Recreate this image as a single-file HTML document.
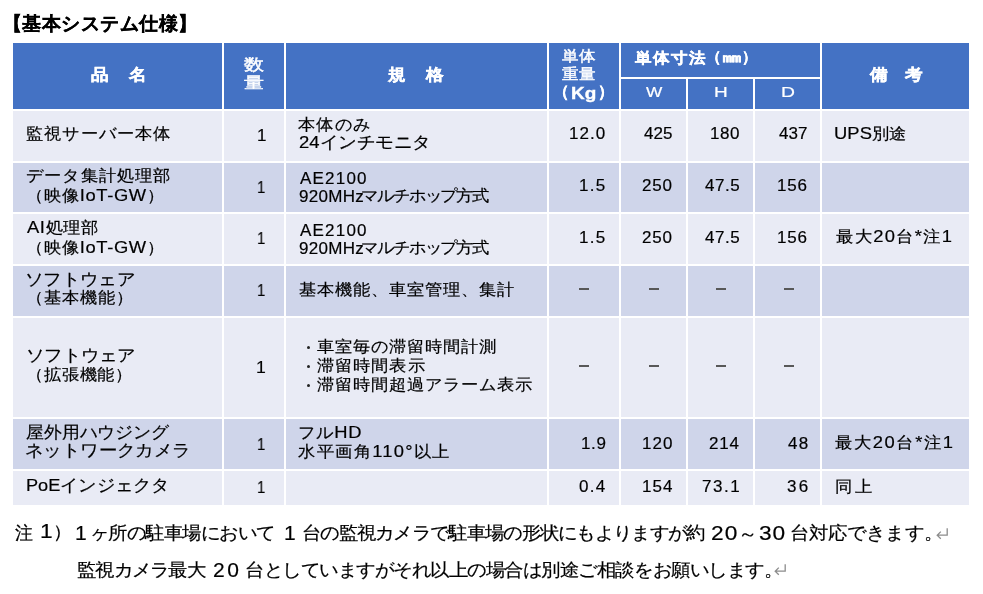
<!DOCTYPE html>
<html lang="ja"><head><meta charset="utf-8"><title>基本システム仕様</title>
<style>
html,body{margin:0;padding:0;background:#fff;width:983px;height:594px;overflow:hidden}
body{position:relative;font-family:"Liberation Sans",sans-serif}
.c{position:absolute}
.t{position:absolute;white-space:nowrap;transform-origin:0 0;line-height:20px;will-change:transform}
</style></head><body>
<div class="c" style="left:13px;top:43px;width:209px;height:66px;background:#4472C4"></div><div class="c" style="left:224px;top:43px;width:60px;height:66px;background:#4472C4"></div><div class="c" style="left:286px;top:43px;width:261px;height:66px;background:#4472C4"></div><div class="c" style="left:549px;top:43px;width:70px;height:66px;background:#4472C4"></div><div class="c" style="left:621px;top:79px;width:65px;height:30px;background:#4472C4"></div><div class="c" style="left:688px;top:79px;width:65px;height:30px;background:#4472C4"></div><div class="c" style="left:755px;top:79px;width:65px;height:30px;background:#4472C4"></div><div class="c" style="left:822px;top:43px;width:147px;height:66px;background:#4472C4"></div><div class="c" style="left:621px;top:43px;width:199px;height:34px;background:#4472C4"></div><div class="c" style="left:13px;top:111px;width:209px;height:50px;background:#E9EBF5"></div><div class="c" style="left:224px;top:111px;width:60px;height:50px;background:#E9EBF5"></div><div class="c" style="left:286px;top:111px;width:261px;height:50px;background:#E9EBF5"></div><div class="c" style="left:549px;top:111px;width:70px;height:50px;background:#E9EBF5"></div><div class="c" style="left:621px;top:111px;width:65px;height:50px;background:#E9EBF5"></div><div class="c" style="left:688px;top:111px;width:65px;height:50px;background:#E9EBF5"></div><div class="c" style="left:755px;top:111px;width:65px;height:50px;background:#E9EBF5"></div><div class="c" style="left:822px;top:111px;width:147px;height:50px;background:#E9EBF5"></div><div class="c" style="left:13px;top:163px;width:209px;height:49px;background:#CFD5EA"></div><div class="c" style="left:224px;top:163px;width:60px;height:49px;background:#CFD5EA"></div><div class="c" style="left:286px;top:163px;width:261px;height:49px;background:#CFD5EA"></div><div class="c" style="left:549px;top:163px;width:70px;height:49px;background:#CFD5EA"></div><div class="c" style="left:621px;top:163px;width:65px;height:49px;background:#CFD5EA"></div><div class="c" style="left:688px;top:163px;width:65px;height:49px;background:#CFD5EA"></div><div class="c" style="left:755px;top:163px;width:65px;height:49px;background:#CFD5EA"></div><div class="c" style="left:822px;top:163px;width:147px;height:49px;background:#CFD5EA"></div><div class="c" style="left:13px;top:214px;width:209px;height:50px;background:#E9EBF5"></div><div class="c" style="left:224px;top:214px;width:60px;height:50px;background:#E9EBF5"></div><div class="c" style="left:286px;top:214px;width:261px;height:50px;background:#E9EBF5"></div><div class="c" style="left:549px;top:214px;width:70px;height:50px;background:#E9EBF5"></div><div class="c" style="left:621px;top:214px;width:65px;height:50px;background:#E9EBF5"></div><div class="c" style="left:688px;top:214px;width:65px;height:50px;background:#E9EBF5"></div><div class="c" style="left:755px;top:214px;width:65px;height:50px;background:#E9EBF5"></div><div class="c" style="left:822px;top:214px;width:147px;height:50px;background:#E9EBF5"></div><div class="c" style="left:13px;top:266px;width:209px;height:50px;background:#CFD5EA"></div><div class="c" style="left:224px;top:266px;width:60px;height:50px;background:#CFD5EA"></div><div class="c" style="left:286px;top:266px;width:261px;height:50px;background:#CFD5EA"></div><div class="c" style="left:549px;top:266px;width:70px;height:50px;background:#CFD5EA"></div><div class="c" style="left:621px;top:266px;width:65px;height:50px;background:#CFD5EA"></div><div class="c" style="left:688px;top:266px;width:65px;height:50px;background:#CFD5EA"></div><div class="c" style="left:755px;top:266px;width:65px;height:50px;background:#CFD5EA"></div><div class="c" style="left:822px;top:266px;width:147px;height:50px;background:#CFD5EA"></div><div class="c" style="left:13px;top:318px;width:209px;height:99px;background:#E9EBF5"></div><div class="c" style="left:224px;top:318px;width:60px;height:99px;background:#E9EBF5"></div><div class="c" style="left:286px;top:318px;width:261px;height:99px;background:#E9EBF5"></div><div class="c" style="left:549px;top:318px;width:70px;height:99px;background:#E9EBF5"></div><div class="c" style="left:621px;top:318px;width:65px;height:99px;background:#E9EBF5"></div><div class="c" style="left:688px;top:318px;width:65px;height:99px;background:#E9EBF5"></div><div class="c" style="left:755px;top:318px;width:65px;height:99px;background:#E9EBF5"></div><div class="c" style="left:822px;top:318px;width:147px;height:99px;background:#E9EBF5"></div><div class="c" style="left:13px;top:419px;width:209px;height:50px;background:#CFD5EA"></div><div class="c" style="left:224px;top:419px;width:60px;height:50px;background:#CFD5EA"></div><div class="c" style="left:286px;top:419px;width:261px;height:50px;background:#CFD5EA"></div><div class="c" style="left:549px;top:419px;width:70px;height:50px;background:#CFD5EA"></div><div class="c" style="left:621px;top:419px;width:65px;height:50px;background:#CFD5EA"></div><div class="c" style="left:688px;top:419px;width:65px;height:50px;background:#CFD5EA"></div><div class="c" style="left:755px;top:419px;width:65px;height:50px;background:#CFD5EA"></div><div class="c" style="left:822px;top:419px;width:147px;height:50px;background:#CFD5EA"></div><div class="c" style="left:13px;top:471px;width:209px;height:34px;background:#E9EBF5"></div><div class="c" style="left:224px;top:471px;width:60px;height:34px;background:#E9EBF5"></div><div class="c" style="left:286px;top:471px;width:261px;height:34px;background:#E9EBF5"></div><div class="c" style="left:549px;top:471px;width:70px;height:34px;background:#E9EBF5"></div><div class="c" style="left:621px;top:471px;width:65px;height:34px;background:#E9EBF5"></div><div class="c" style="left:688px;top:471px;width:65px;height:34px;background:#E9EBF5"></div><div class="c" style="left:755px;top:471px;width:65px;height:34px;background:#E9EBF5"></div><div class="c" style="left:822px;top:471px;width:147px;height:34px;background:#E9EBF5"></div>
<div class="c" style="left:579px;top:288px;width:10px;height:2px;background:#585858"></div><div class="c" style="left:648.6px;top:288px;width:10.600000000000023px;height:2px;background:#585858"></div><div class="c" style="left:716px;top:288px;width:10px;height:2px;background:#585858"></div><div class="c" style="left:783.5px;top:288px;width:10.0px;height:2px;background:#585858"></div><div class="c" style="left:579px;top:365px;width:10px;height:2px;background:#585858"></div><div class="c" style="left:648.6px;top:365px;width:10.600000000000023px;height:2px;background:#585858"></div><div class="c" style="left:716px;top:365px;width:10px;height:2px;background:#585858"></div><div class="c" style="left:783.5px;top:365px;width:10.0px;height:2px;background:#585858"></div><div class="c" style="left:306.5px;top:345.5px;width:3px;height:3px;border-radius:50%;background:#222"></div><div class="c" style="left:306.5px;top:364.5px;width:3px;height:3px;border-radius:50%;background:#222"></div><div class="c" style="left:306.5px;top:383.5px;width:3px;height:3px;border-radius:50%;background:#222"></div><svg class="c" style="left:936px;top:528px" width="13" height="12" viewBox="0 0 13 12"><path d="M11.2 0.2 V7.2 H1.2 M4.8 3.6 L1.2 7.2 L4.8 10.8" fill="none" stroke="#8c8c8c" stroke-width="1.3"/></svg><svg class="c" style="left:773.5px;top:563.5px" width="13" height="12" viewBox="0 0 13 12"><path d="M11.2 0.2 V7.2 H1.2 M4.8 3.6 L1.2 7.2 L4.8 10.8" fill="none" stroke="#8c8c8c" stroke-width="1.3"/></svg>
<div class="t" style="left:3.0px;top:14.0px;letter-spacing:0.444px;font-weight:bold;color:#000;-webkit-text-stroke:0.3px #000"><span style="font-size:18.5px">【基本システム仕様】</span></div><div class="t" style="left:90.9px;top:64.5px;transform:scaleX(1.1);letter-spacing:1.136px;font-weight:bold;color:#fff;-webkit-text-stroke:0.35px #fff"><span style="font-size:15.5px">品　名</span></div><div class="t" style="left:244.25px;top:54.5px;transform:scaleX(1.25);color:#fff;-webkit-text-stroke:0.45px #fff"><span style="font-size:16px">数</span></div><div class="t" style="left:244.25px;top:73.45px;transform:scaleX(1.25);color:#fff;-webkit-text-stroke:0.45px #fff"><span style="font-size:16px">量</span></div><div class="t" style="left:387.9px;top:65.05px;transform:scaleX(1.1);letter-spacing:1.273px;font-weight:bold;color:#fff;-webkit-text-stroke:0.35px #fff"><span style="font-size:15.5px">規　格</span></div><div class="t" style="left:561.9px;top:45.7px;transform:scaleX(1.1);letter-spacing:0.182px;color:#fff;-webkit-text-stroke:0.45px #fff"><span style="font-size:14.5px">単体</span></div><div class="t" style="left:561.9px;top:63.7px;transform:scaleX(1.1);letter-spacing:0.182px;color:#fff;-webkit-text-stroke:0.45px #fff"><span style="font-size:14.5px">重量</span></div><div class="t" style="left:553.0px;top:82.45px;font-weight:bold;color:#fff;-webkit-text-stroke:0.35px #fff"><span style="font-size:15.5px">（</span></div><div class="t" style="left:571.42px;top:84.0px;transform:scaleX(1.1842);font-weight:bold;color:#fff;-webkit-text-stroke:0.35px #fff"><span style="font-size:16px">Kg</span></div><div class="t" style="left:598.15px;top:82.45px;font-weight:bold;color:#fff;-webkit-text-stroke:0.35px #fff"><span style="font-size:15.5px">）</span></div><div class="t" style="left:634.6px;top:48.3px;transform:scaleX(1.1);letter-spacing:1.455px;font-weight:bold;color:#fff;-webkit-text-stroke:0.35px #fff"><span style="font-size:14.5px">単体寸法</span></div><div class="t" style="left:706.05px;top:46.95px;font-weight:bold;color:#fff;-webkit-text-stroke:0.35px #fff"><span style="font-size:14.5px">（</span></div><div class="t" style="left:721.88px;top:47.15px;transform:scaleX(1.3231);font-weight:bold;color:#fff;-webkit-text-stroke:0.35px #fff"><span style="font-size:14.5px">㎜</span></div><div class="t" style="left:742.15px;top:46.95px;font-weight:bold;color:#fff;-webkit-text-stroke:0.35px #fff"><span style="font-size:14.5px">）</span></div><div class="t" style="left:645.6px;top:82.15px;transform:scaleX(1.15);color:#fff;-webkit-text-stroke:0.2px #fff"><span style="font-size:15px">W</span></div><div class="t" style="left:713.73px;top:82.15px;transform:scaleX(1.2667);color:#fff;-webkit-text-stroke:0.2px #fff"><span style="font-size:15px">H</span></div><div class="t" style="left:781.11px;top:82.15px;transform:scaleX(1.2889);color:#fff;-webkit-text-stroke:0.2px #fff"><span style="font-size:15px">D</span></div><div class="t" style="left:870.0px;top:64.65px;transform:scaleX(1.1);letter-spacing:0.091px;font-weight:bold;color:#fff;-webkit-text-stroke:0.35px #fff"><span style="font-size:15.5px">備　考</span></div><div class="t" style="left:26.22px;top:124.2px;transform:scaleX(1.08);letter-spacing:0.823px;color:#000;-webkit-text-stroke:0.2px #000"><span style="font-size:16px">監視サーバー本体</span></div><div class="t" style="left:256.52px;top:125.6px;transform:scaleX(0.975);color:#000;-webkit-text-stroke:0.2px #000"><span style="font-size:17px">1</span></div><div class="t" style="left:298.42px;top:115.3px;transform:scaleX(1.08);letter-spacing:1.093px;color:#000;-webkit-text-stroke:0.2px #000"><span style="font-size:16px">本体のみ</span></div><div class="t" style="left:298.91px;top:133.3px;transform:scaleX(1.088);color:#000;-webkit-text-stroke:0.2px #000"><span style="font-size:17px">24</span><span style="font-size:17px">インチモニタ</span></div><div class="t" style="left:569.0px;top:124.35px;letter-spacing:1.0px;color:#000;-webkit-text-stroke:0.2px #000"><span style="font-size:17px">12.0</span></div><div class="t" style="left:643.6px;top:124.35px;letter-spacing:0.05px;color:#000;-webkit-text-stroke:0.2px #000"><span style="font-size:17px">425</span></div><div class="t" style="left:710.4px;top:124.35px;letter-spacing:0.6px;color:#000;-webkit-text-stroke:0.2px #000"><span style="font-size:17px">180</span></div><div class="t" style="left:778.5px;top:124.35px;letter-spacing:0.05px;color:#000;-webkit-text-stroke:0.2px #000"><span style="font-size:17px">437</span></div><div class="t" style="left:834.42px;top:124.25px;transform:scaleX(1.08);letter-spacing:0.069px;color:#000;-webkit-text-stroke:0.2px #000"><span style="font-size:17px">UPS</span><span style="font-size:16px">別途</span></div><div class="t" style="left:25.92px;top:166.0px;transform:scaleX(1.08);letter-spacing:0.836px;color:#000;-webkit-text-stroke:0.2px #000"><span style="font-size:16px">データ集計処理部</span></div><div class="t" style="left:26.2px;top:185.75px;transform:scaleX(1.08);letter-spacing:0.593px;color:#000;-webkit-text-stroke:0.2px #000"><span style="font-size:16px">（映像</span><span style="font-size:17px">IoT-GW</span><span style="font-size:16px">）</span></div><div class="t" style="left:256.73px;top:177.7px;transform:scaleX(0.875);color:#000;-webkit-text-stroke:0.2px #000"><span style="font-size:17px">1</span></div><div class="t" style="left:299.8px;top:168.5px;letter-spacing:1.2px;color:#000;-webkit-text-stroke:0.2px #000"><span style="font-size:17px">AE2100</span></div><div class="t" style="left:298.5px;top:186.75px;letter-spacing:0.3px;color:#000;-webkit-text-stroke:0.2px #000"><span style="font-size:17px">920MHz</span></div><div class="t" style="left:360.84px;top:186.0px;transform:scaleX(1.08);letter-spacing:-1.283px;color:#000;-webkit-text-stroke:0.2px #000"><span style="font-size:16px">マルチホップ方式</span></div><div class="t" style="left:579.3px;top:176.3px;letter-spacing:1.25px;color:#000;-webkit-text-stroke:0.2px #000"><span style="font-size:17px">1.5</span></div><div class="t" style="left:642.4px;top:176.3px;letter-spacing:0.75px;color:#000;-webkit-text-stroke:0.2px #000"><span style="font-size:17px">250</span></div><div class="t" style="left:704.5px;top:176.3px;letter-spacing:0.5px;color:#000;-webkit-text-stroke:0.2px #000"><span style="font-size:17px">47.5</span></div><div class="t" style="left:776.7px;top:176.3px;letter-spacing:0.75px;color:#000;-webkit-text-stroke:0.2px #000"><span style="font-size:17px">156</span></div><div class="t" style="left:27.0px;top:218.05px;transform:scaleX(1.08);letter-spacing:0.569px;color:#000;-webkit-text-stroke:0.2px #000"><span style="font-size:17px">AI</span><span style="font-size:16px">処理部</span></div><div class="t" style="left:26.2px;top:237.8px;transform:scaleX(1.08);letter-spacing:0.593px;color:#000;-webkit-text-stroke:0.2px #000"><span style="font-size:16px">（映像</span><span style="font-size:17px">IoT-GW</span><span style="font-size:16px">）</span></div><div class="t" style="left:256.73px;top:229.35px;transform:scaleX(0.875);color:#000;-webkit-text-stroke:0.2px #000"><span style="font-size:17px">1</span></div><div class="t" style="left:299.8px;top:220.5px;letter-spacing:1.2px;color:#000;-webkit-text-stroke:0.2px #000"><span style="font-size:17px">AE2100</span></div><div class="t" style="left:298.5px;top:238.75px;letter-spacing:0.3px;color:#000;-webkit-text-stroke:0.2px #000"><span style="font-size:17px">920MHz</span></div><div class="t" style="left:360.84px;top:238.0px;transform:scaleX(1.08);letter-spacing:-1.283px;color:#000;-webkit-text-stroke:0.2px #000"><span style="font-size:16px">マルチホップ方式</span></div><div class="t" style="left:579.3px;top:228.4px;letter-spacing:1.25px;color:#000;-webkit-text-stroke:0.2px #000"><span style="font-size:17px">1.5</span></div><div class="t" style="left:642.4px;top:228.4px;letter-spacing:0.75px;color:#000;-webkit-text-stroke:0.2px #000"><span style="font-size:17px">250</span></div><div class="t" style="left:704.5px;top:228.4px;letter-spacing:0.5px;color:#000;-webkit-text-stroke:0.2px #000"><span style="font-size:17px">47.5</span></div><div class="t" style="left:776.7px;top:228.4px;letter-spacing:0.75px;color:#000;-webkit-text-stroke:0.2px #000"><span style="font-size:17px">156</span></div><div class="t" style="left:835.62px;top:227.25px;transform:scaleX(1.08);letter-spacing:1.209px;color:#000;-webkit-text-stroke:0.2px #000"><span style="font-size:16px">最大</span><span style="font-size:17px">20</span><span style="font-size:16px">台</span><span style="font-size:17px">*</span><span style="font-size:16px">注</span><span style="font-size:17px">1</span></div><div class="t" style="left:24.84px;top:269.6px;transform:scaleX(1.0808);color:#000;-webkit-text-stroke:0.2px #000"><span style="font-size:17px">ソフトウェア</span></div><div class="t" style="left:26.2px;top:287.8px;transform:scaleX(1.08);letter-spacing:0.726px;color:#000;-webkit-text-stroke:0.2px #000"><span style="font-size:16px">（基本機能）</span></div><div class="t" style="left:256.73px;top:281.0px;transform:scaleX(0.875);color:#000;-webkit-text-stroke:0.2px #000"><span style="font-size:17px">1</span></div><div class="t" style="left:298.72px;top:279.8px;transform:scaleX(1.08);letter-spacing:0.648px;color:#000;-webkit-text-stroke:0.2px #000"><span style="font-size:16px">基本機能、車室管理、集計</span></div><div class="t" style="left:25.85px;top:346.0px;transform:scaleX(1.0758);color:#000;-webkit-text-stroke:0.2px #000"><span style="font-size:17px">ソフトウェア</span></div><div class="t" style="left:26.2px;top:365.35px;transform:scaleX(1.08);letter-spacing:0.541px;color:#000;-webkit-text-stroke:0.2px #000"><span style="font-size:16px">（拡張機能）</span></div><div class="t" style="left:255.66px;top:357.5px;transform:scaleX(1.0375);color:#000;-webkit-text-stroke:0.2px #000"><span style="font-size:17px">1</span></div><div class="t" style="left:317.2px;top:336.7px;transform:scaleX(1.08);letter-spacing:0.626px;color:#000;-webkit-text-stroke:0.2px #000"><span style="font-size:16px">車室毎の滞留時間計測</span></div><div class="t" style="left:317.2px;top:355.55px;transform:scaleX(1.08);letter-spacing:0.778px;color:#000;-webkit-text-stroke:0.2px #000"><span style="font-size:16px">滞留時間表示</span></div><div class="t" style="left:317.2px;top:374.7px;transform:scaleX(1.08);letter-spacing:0.633px;color:#000;-webkit-text-stroke:0.2px #000"><span style="font-size:16px">滞留時間超過アラーム表示</span></div><div class="t" style="left:25.75px;top:423.0px;transform:scaleX(1.0504);color:#000;-webkit-text-stroke:0.2px #000"><span style="font-size:17px">屋外用ハウジング</span></div><div class="t" style="left:24.64px;top:440.5px;transform:scaleX(1.0824);color:#000;-webkit-text-stroke:0.2px #000"><span style="font-size:17px">ネットワークカメラ</span></div><div class="t" style="left:256.73px;top:434.5px;transform:scaleX(0.875);color:#000;-webkit-text-stroke:0.2px #000"><span style="font-size:17px">1</span></div><div class="t" style="left:298.24px;top:423.45px;transform:scaleX(1.08);letter-spacing:0.765px;color:#000;-webkit-text-stroke:0.2px #000"><span style="font-size:16px">フル</span><span style="font-size:17px">HD</span></div><div class="t" style="left:297.92px;top:442.25px;transform:scaleX(1.08);letter-spacing:1.158px;color:#000;-webkit-text-stroke:0.2px #000"><span style="font-size:16px">水平画角</span><span style="font-size:17px">110°</span><span style="font-size:16px">以上</span></div><div class="t" style="left:580.5px;top:434.15px;letter-spacing:0.6px;color:#000;-webkit-text-stroke:0.2px #000"><span style="font-size:17px">1.9</span></div><div class="t" style="left:642.3px;top:434.15px;letter-spacing:1.1px;color:#000;-webkit-text-stroke:0.2px #000"><span style="font-size:17px">120</span></div><div class="t" style="left:709.3px;top:434.15px;letter-spacing:0.85px;color:#000;-webkit-text-stroke:0.2px #000"><span style="font-size:17px">214</span></div><div class="t" style="left:788.4px;top:434.15px;letter-spacing:1.4px;color:#000;-webkit-text-stroke:0.2px #000"><span style="font-size:17px">48</span></div><div class="t" style="left:834.62px;top:433.25px;transform:scaleX(1.08);letter-spacing:1.474px;color:#000;-webkit-text-stroke:0.2px #000"><span style="font-size:16px">最大</span><span style="font-size:17px">20</span><span style="font-size:16px">台</span><span style="font-size:17px">*</span><span style="font-size:16px">注</span><span style="font-size:17px">1</span></div><div class="t" style="left:25.73px;top:476.1px;transform:scaleX(1.0677);color:#000;-webkit-text-stroke:0.2px #000"><span style="font-size:17px">PoE</span><span style="font-size:17px">インジェクタ</span></div><div class="t" style="left:256.73px;top:477.5px;transform:scaleX(0.875);color:#000;-webkit-text-stroke:0.2px #000"><span style="font-size:17px">1</span></div><div class="t" style="left:579.2px;top:477.1px;letter-spacing:1.25px;color:#000;-webkit-text-stroke:0.2px #000"><span style="font-size:17px">0.4</span></div><div class="t" style="left:642.3px;top:477.1px;letter-spacing:1.1px;color:#000;-webkit-text-stroke:0.2px #000"><span style="font-size:17px">154</span></div><div class="t" style="left:702.4px;top:477.1px;letter-spacing:1.533px;color:#000;-webkit-text-stroke:0.2px #000"><span style="font-size:17px">73.1</span></div><div class="t" style="left:787.4px;top:477.1px;letter-spacing:2.4px;color:#000;-webkit-text-stroke:0.2px #000"><span style="font-size:17px">36</span></div><div class="t" style="left:834.62px;top:476.5px;transform:scaleX(1.08);letter-spacing:2.685px;color:#000;-webkit-text-stroke:0.2px #000"><span style="font-size:16px">同上</span></div><div class="t" style="left:14.8px;top:523.1px;color:#000;-webkit-text-stroke:0.2px #000"><span style="font-size:18px">注</span></div><div class="t" style="left:39.94px;top:520.95px;transform:scaleX(1.08);letter-spacing:0.574px;color:#000;-webkit-text-stroke:0.2px #000"><span style="font-size:21px">1</span><span style="font-size:18px">）</span></div><div class="t" style="left:74.8px;top:523.1px;color:#000;-webkit-text-stroke:0.2px #000"><span style="font-size:21px">1</span></div><div class="t" style="left:89.76px;top:522.6px;transform:scaleX(1.08);letter-spacing:-0.905px;color:#000;-webkit-text-stroke:0.2px #000"><span style="font-size:18px">ヶ所の駐車場において</span></div><div class="t" style="left:284.1px;top:523.1px;color:#000;-webkit-text-stroke:0.2px #000"><span style="font-size:21px">1</span></div><div class="t" style="left:301.64px;top:522.6px;transform:scaleX(1.08);letter-spacing:-1.06px;color:#000;-webkit-text-stroke:0.2px #000"><span style="font-size:18px">台の監視カメラで駐車場の形状にもよりますが約</span></div><div class="t" style="left:710.62px;top:523.3px;transform:scaleX(1.08);letter-spacing:0.986px;color:#000;-webkit-text-stroke:0.2px #000"><span style="font-size:21px">20</span><span style="font-size:18px">～</span><span style="font-size:21px">30</span></div><div class="t" style="left:789.84px;top:522.6px;transform:scaleX(1.08);letter-spacing:-0.317px;color:#000;-webkit-text-stroke:0.2px #000"><span style="font-size:18px">台対応できます。</span></div><div class="t" style="left:77.42px;top:560.35px;transform:scaleX(1.08);letter-spacing:-1.068px;color:#000;-webkit-text-stroke:0.2px #000"><span style="font-size:18px">監視カメラ最大</span></div><div class="t" style="left:213.0px;top:560.25px;letter-spacing:2.5px;color:#000;-webkit-text-stroke:0.2px #000"><span style="font-size:21px">20</span></div><div class="t" style="left:244.84px;top:559.85px;transform:scaleX(1.08);letter-spacing:-0.848px;color:#000;-webkit-text-stroke:0.2px #000"><span style="font-size:18px">台としていますがそれ以上の場合は別途ご相談をお願いします。</span></div>
</body></html>
